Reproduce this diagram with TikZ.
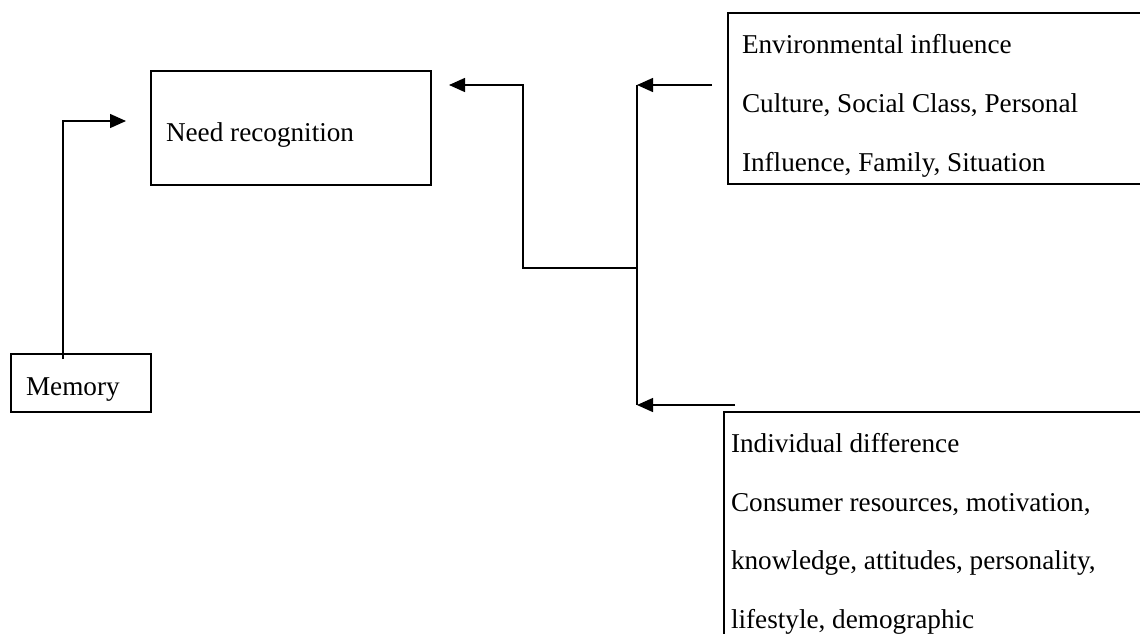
\documentclass[tikz,border=0pt]{standalone}
\usepackage{fontspec}
\setmainfont{Liberation Serif}
\usetikzlibrary{arrows.meta}
\begin{document}
\begin{tikzpicture}[x=0.5pt,y=-0.5pt,
  box/.style={draw,line width=1pt,inner sep=0pt,outer sep=0pt},
  lbl/.style={inner sep=0pt,outer sep=0pt,anchor=base west,font=\fontsize{13.6pt}{16pt}\selectfont},
  conn/.style={line width=0.7pt},
  arr/.style={conn,-{Triangle[length=8pt,width=7pt]}}]
\useasboundingbox (0,0) rectangle (1140,633);
\clip (0,0) rectangle (1140,633);
% boxes
\node[box,minimum width=140pt,minimum height=57pt] (need) at (291,128) {};
\node[box,minimum width=70pt,minimum height=29pt] (memory) at (81,383) {};
\node[box,minimum width=216pt,minimum height=85.5pt] (env) at (944,98.5) {};
\node[box,minimum width=218pt,minimum height=124pt] (ind) at (942,536) {};
% texts
\node[lbl] (needt) at (166,141) {Need recognition};
\node[lbl] (memt) at (26,395) {Memory};
\node[lbl] (env1) at (742,53) {Environmental influence};
\node[lbl] (env2) at (742,112) {Culture, Social Class, Personal};
\node[lbl] (env3) at (742,171) {Influence, Family, Situation};
\node[lbl] (ind1) at (731,452) {Individual difference};
\node[lbl] (ind2) at (731,511) {Consumer resources, motivation,};
\node[lbl] (ind3) at (731,569) {knowledge, attitudes, personality,};
\node[lbl] (ind4) at (731,628) {lifestyle, demographic};
% connector coordinates
\coordinate (memtop) at (63,359);
\coordinate (memturn) at (63,121);
\coordinate (needin) at (126,121);
\coordinate (needright) at (449,85);
\coordinate (jturn) at (523,85);
\coordinate (jlow) at (523,268);
\coordinate (trunkmid) at (637,268);
\coordinate (trunktop) at (637,85);
\coordinate (trunkbot) at (637,405);
\coordinate (envout) at (712,85);
\coordinate (indout) at (735,405);
% connectors
\draw[arr] (memtop) -- (memturn) -- (needin);
\draw[conn] (trunktop) -- (trunkbot);
\draw[arr] (trunkmid) -- (jlow) -- (jturn) -- (needright);
\draw[arr] (envout) -- (trunktop);
\draw[arr] (indout) -- (trunkbot);
\end{tikzpicture}
\end{document}
